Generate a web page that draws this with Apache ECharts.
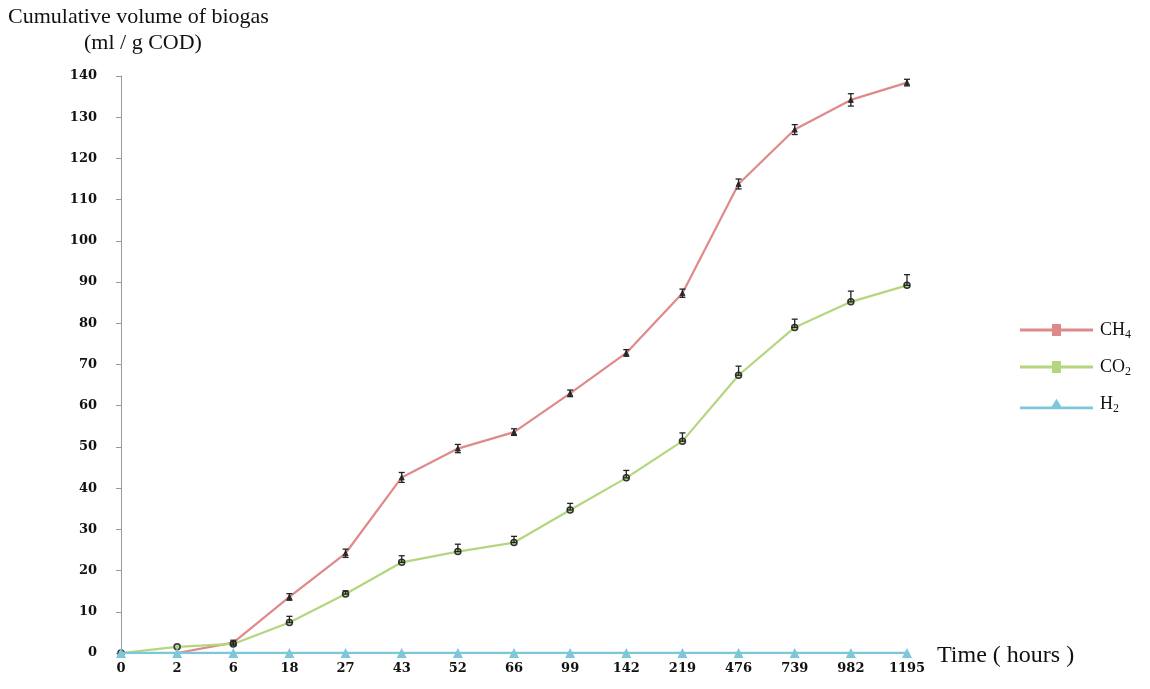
<!DOCTYPE html>
<html><head><meta charset="utf-8">
<script src="https://cdn.jsdelivr.net/npm/echarts@6/dist/echarts.min.js"></script>
<style>html,body{margin:0;padding:0;background:#fff}#c{width:1150px;height:689px}</style>
</head><body><div id="c"></div>
<script>
const categories = ['0','2','6','18','27','43','52','66','99','142','219','476','739','982','1195'];
const ch4 = [0, 0, 2.5, 13.6, 24.2, 42.6, 49.6, 53.6, 63, 72.8, 87.3, 113.8, 127, 134.2, 138.4];
const co2 = [0, 1.5, 2.2, 7.4, 14.3, 22, 24.6, 26.8, 34.7, 42.5, 51.4, 67.4, 79, 85.2, 89.2];
const h2  = [0, 0, 0, 0, 0, 0, 0, 0, 0, 0, 0, 0, 0, 0, 0];
const ch4Err = [0, 0, 0.6, 0.8, 1, 1.2, 1, 0.8, 0.8, 0.8, 1, 1.2, 1.2, 1.5, 0.8];
const co2Err = [0, 0, 0.5, 1.5, 0.8, 1.6, 1.8, 1.5, 1.6, 1.8, 2, 2.2, 2, 2.6, 2.6];
const yTicks = [0,10,20,30,40,50,60,70,80,90,100,110,120,130,140];

const cCH4 = '#e0898a', cCO2 = '#b4d67e', cH2 = '#7ec7da';

function errSeries(vals, errs, downToo) {
  return {
    type: 'custom', silent: true, z: 5,
    data: vals.map((v, i) => [i, downToo ? v - errs[i] : v, v + errs[i], errs[i]]),
    renderItem: function (params, api) {
      if (api.value(3) <= 0) return null;
      const lo = api.coord([api.value(0), api.value(1)]);
      const hi = api.coord([api.value(0), api.value(2)]);
      const w = 3;
      const st = { stroke: '#222', lineWidth: 1.3 };
      return { type: 'group', children: [
        { type: 'line', shape: { x1: hi[0], y1: hi[1], x2: lo[0], y2: lo[1] }, style: st },
        { type: 'line', shape: { x1: hi[0]-w, y1: hi[1], x2: hi[0]+w, y2: hi[1] }, style: st },
        { type: 'line', shape: { x1: lo[0]-w, y1: lo[1], x2: lo[0]+w, y2: lo[1] }, style: st }
      ]};
    }
  };
}

const sqIcon = 'path://M0,5.6H73V8.4H0Z M32,1H41V13H32Z';
const triIcon = 'path://M0,10.6H73V13.4H0Z M36.5,3L42,12H31Z';
const serif = '"Liberation Serif", "DejaVu Serif", serif';

const chart = echarts.init(document.getElementById('c'));
chart.setOption({
  animation: false,
  backgroundColor: '#fff',
  grid: { left: 121, right: 243, top: 76, bottom: 36, containLabel: false },
  graphic: [
    { type: 'text', left: 8, top: 6, style: { text: 'Cumulative volume of biogas', font: '22px ' + serif, fill: '#111' } },
    { type: 'text', left: 84, top: 32, style: { text: '(ml / g COD)', font: '22px ' + serif, fill: '#111' } },
    { type: 'text', left: 937, top: 644, style: { text: 'Time ( hours )', font: '24px ' + serif, fill: '#111' } }
  ],
  legend: {
    orient: 'vertical', left: 1015, top: 316, itemGap: 17, itemWidth: 73, itemHeight: 14,
    textStyle: { fontFamily: serif, fontSize: 18, color: '#111', padding: [0,0,0,2],
      rich: { s: { fontFamily: serif, fontSize: 12, padding: [10,0,0,0] } } },
    formatter: function (n) { return n === 'CH4' ? 'CH{s|4}' : n === 'CO2' ? 'CO{s|2}' : 'H{s|2}'; },
    data: [
      { name: 'CH4', icon: sqIcon, itemStyle: { color: cCH4, borderWidth: 0 } },
      { name: 'CO2', icon: sqIcon, itemStyle: { color: cCO2, borderWidth: 0 } },
      { name: 'H2', icon: triIcon, itemStyle: { color: cH2, borderWidth: 0 } }
    ]
  },
  xAxis: {
    type: 'category', data: categories, boundaryGap: false,
    axisLine: { show: true, lineStyle: { color: '#999' } },
    axisTick: { show: false },
    axisLabel: { color: '#111', fontFamily: '"DejaVu Serif", serif', fontWeight: 'bold', fontSize: 13, margin: 9 }
  },
  yAxis: {
    type: 'value', min: 0, max: 140, interval: 10,
    axisLine: { show: true, lineStyle: { color: '#999' } },
    axisTick: { show: true, length: 5, lineStyle: { color: '#999' } },
    splitLine: { show: false },
    axisLabel: { color: '#111', fontFamily: '"DejaVu Serif", serif', fontWeight: 'bold', fontSize: 13, margin: 24,
      formatter: function (v) { return yTicks.indexOf(v) >= 0 ? String(v) : ''; } }
  },
  series: [
    { name: 'CH4', type: 'line', data: ch4, color: cCH4, lineStyle: { width: 2.2, color: cCH4 },
      symbol: 'triangle', symbolSize: 5, itemStyle: { color: '#333', borderColor: '#333' }, z: 3 },
    { name: 'CO2', type: 'line', data: co2, color: cCO2, lineStyle: { width: 2.2, color: cCO2 },
      symbol: 'circle', symbolSize: 6, itemStyle: { color: cCO2, borderColor: '#333', borderWidth: 1.5 }, z: 3 },
    { name: 'H2', type: 'line', data: h2, color: cH2, lineStyle: { width: 2.5, color: cH2 },
      symbol: 'triangle', symbolSize: 10, itemStyle: { color: cH2 }, z: 4 },
    errSeries(ch4, ch4Err, true),
    errSeries(co2, co2Err, false)
  ]
});
</script></body></html>
